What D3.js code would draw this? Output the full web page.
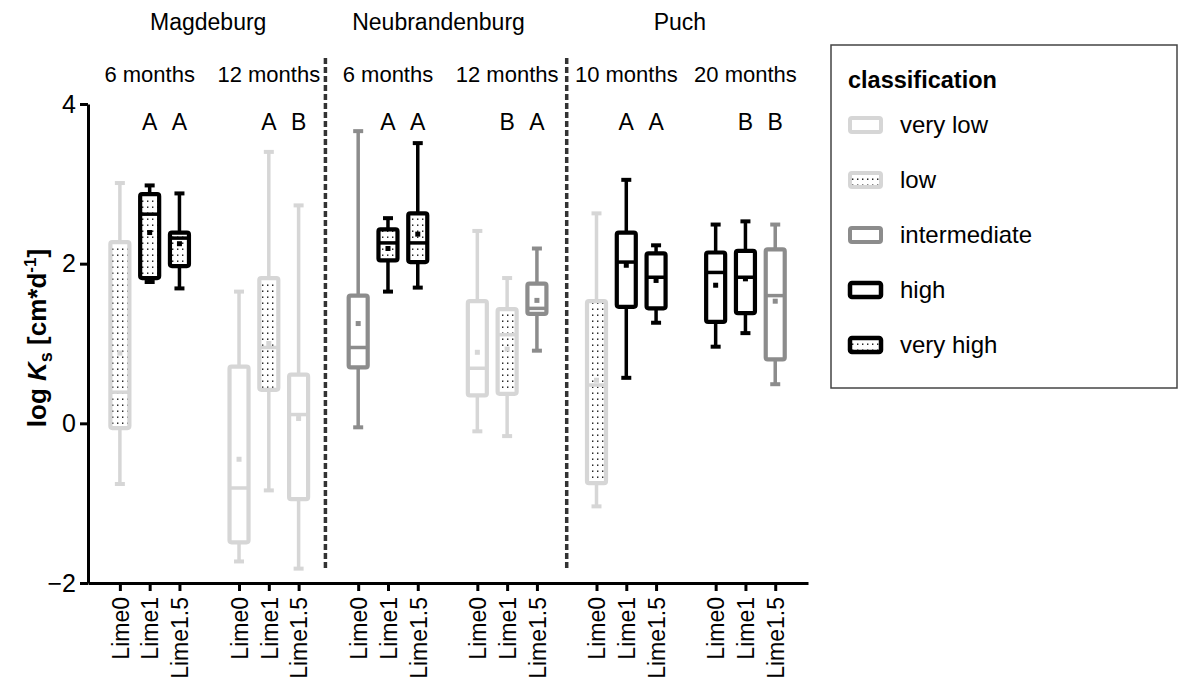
<!DOCTYPE html>
<html>
<head>
<meta charset="utf-8">
<script src="https://cdn.jsdelivr.net/npm/d3@7"></script>
<style>
  html, body { margin: 0; padding: 0; background: #fff; }
  svg { display: block; font-family: "Liberation Sans", Arial, sans-serif; }
</style>
</head>
<body>
<svg id="chart" width="1179" height="682"></svg>
<script>
// ---------- data ----------
const sites = ["Magdeburg", "Neubrandenburg", "Puch"];
const periods = ["6 months", "12 months", "6 months", "12 months", "10 months", "20 months"];
const treatments = ["Lime0", "Lime1", "Lime1.5"];
const classNames = ["very low", "low", "intermediate", "high", "very high"];

// one entry per box, in order: period group (6) x treatment (3)
const boxClass = [
  "low", "very high", "very high",
  "very low", "low", "very low",
  "intermediate", "very high", "very high",
  "very low", "low", "intermediate",
  "low", "high", "high",
  "high", "high", "intermediate"
];
const whiskerHigh = [3.01, 2.98, 2.88, 1.65, 3.40, 2.73, 3.66, 2.57, 3.51, 2.41, 1.82, 2.19, 2.63, 3.05, 2.23, 2.49, 2.53, 2.49];
const q3          = [2.27, 2.87, 2.39, 0.71, 1.82, 0.61, 1.60, 2.43, 2.63, 1.53, 1.43, 1.75, 1.53, 2.39, 2.13, 2.14, 2.16, 2.18];
const medians     = [0.39, 2.62, 2.32, -0.81, 0.95, 0.11, 0.95, 2.26, 2.26, 0.69, 1.11, 1.44, 0.48, 2.02, 1.83, 1.89, 1.83, 1.60];
const q1          = [-0.06, 1.82, 1.97, -1.49, 0.42, -0.95, 0.70, 2.04, 2.02, 0.35, 0.37, 1.37, -0.75, 1.46, 1.44, 1.27, 1.38, 0.80];
const whiskerLow  = [-0.76, 1.77, 1.69, -1.73, -0.84, -1.82, -0.05, 1.65, 1.70, -0.10, -0.16, 0.91, -1.04, 0.57, 1.26, 0.96, 1.13, 0.49];
const means       = [0.88, 2.39, 2.25, -0.45, 1.00, 0.06, 1.25, 2.19, 2.37, 0.89, 0.93, 1.54, 0.54, 1.98, 1.79, 1.73, 1.81, 1.53];
const letters     = ["", "A", "A", "", "A", "B", "", "A", "A", "", "B", "A", "", "A", "A", "", "B", "B"];
const yTicks = [-2, 0, 2, 4];

// ---------- styles per class ----------
const classStroke = { "very low": "#d6d6d6", "low": "#d6d6d6", "intermediate": "#8c8c8c", "high": "#000", "very high": "#000" };
const classDotted = { "very low": false, "low": true, "intermediate": false, "high": false, "very high": true };

// ---------- layout ----------
const svg = d3.select("#chart");
svg.append("rect").attr("width", 1179).attr("height", 682).attr("fill", "#fff");

const defs = svg.append("defs");
const pat = defs.append("pattern").attr("id", "dots")
  .attr("patternUnits", "userSpaceOnUse").attr("width", 5).attr("height", 6);
pat.append("rect").attr("width", 5).attr("height", 6).attr("fill", "#fff");
pat.append("rect").attr("x", 2).attr("y", 2.5).attr("width", 1.4).attr("height", 1.4).attr("fill", "#111");

const x = d3.scaleLinear().domain([-1.07, 23.1]).range([88, 808]);
const y = d3.scaleLinear().domain([-2, 4]).range([583, 104]);

const slotOf = i => Math.floor(i / 3) * 4 + (i % 3);
const boxes = boxClass.map((c, i) => ({
  i, cls: c, slot: slotOf(i),
  lo: whiskerLow[i], q1: q1[i], med: medians[i], q3: q3[i], hi: whiskerHigh[i], mean: means[i], letter: letters[i]
}));

const font = "'Liberation Sans', Arial, sans-serif";

// separators
const sepSlots = [6.9, 15];
svg.append("g").selectAll("line").data(sepSlots).join("line")
  .attr("x1", d => x(d)).attr("x2", d => x(d))
  .attr("y1", 58).attr("y2", 570)
  .attr("stroke", "#333").attr("stroke-width", 3.5).attr("stroke-dasharray", "6,3");

// axes
const yAxis = svg.append("g").attr("transform", `translate(${x.range()[0]},0)`)
  .call(d3.axisLeft(y).tickValues(yTicks).tickSize(8).tickSizeOuter(0).tickPadding(4).tickFormat(d3.format("d")));
yAxis.select(".domain").attr("stroke-width", 3).attr("stroke", "#000");
yAxis.selectAll(".tick line").attr("stroke-width", 3);
yAxis.selectAll(".tick text").attr("font-size", 25).attr("font-family", font).attr("fill", "#000");

const tickSlots = boxes.map(b => b.slot);
const xAxis = svg.append("g").attr("transform", `translate(0,${y.range()[0]})`)
  .call(d3.axisBottom(x).tickValues(tickSlots).tickSize(8).tickSizeOuter(0)
    .tickFormat(s => treatments[s % 4]));
xAxis.select(".domain").attr("stroke-width", 3).attr("stroke", "#000");
xAxis.selectAll(".tick line").attr("stroke-width", 3);
xAxis.selectAll(".tick text")
  .attr("font-size", 23).attr("font-family", font).attr("fill", "#000")
  .attr("text-anchor", "end")
  .attr("transform", "rotate(-90)")
  .attr("x", -14).attr("y", 0).attr("dy", "0.36em");

// y-axis title
const yt = svg.append("text")
  .attr("transform", "translate(46,338) rotate(-90)")
  .attr("text-anchor", "middle")
  .attr("font-size", 26).attr("font-weight", "bold").attr("font-family", font);
yt.append("tspan").text("log ");
yt.append("tspan").attr("font-style", "italic").text("K");
yt.append("tspan").attr("font-size", 18).attr("dy", 6).text("s");
yt.append("tspan").attr("dy", -6).text(" [cm*d");
yt.append("tspan").attr("font-size", 17).attr("dy", -10).text("-1");
yt.append("tspan").attr("dy", 10).text("]");

// headers
const groupCenters = periods.map((p, g) => x(g * 4 + 1));
const siteShift = [-1, -9, -6];
svg.append("g").selectAll("text").data(sites).join("text")
  .attr("x", (d, k) => (groupCenters[2 * k] + groupCenters[2 * k + 1]) / 2 + siteShift[k])
  .attr("y", 30).attr("text-anchor", "middle")
  .attr("font-size", 23).attr("font-family", font).text(d => d);
svg.append("g").selectAll("text").data(periods).join("text")
  .attr("x", (d, g) => groupCenters[g]).attr("y", 82).attr("text-anchor", "middle")
  .attr("font-size", 22).attr("font-family", font).text(d => d);

// letters
svg.append("g").selectAll("text").data(boxes.filter(b => b.letter)).join("text")
  .attr("x", b => x(b.slot)).attr("y", 130).attr("text-anchor", "middle")
  .attr("font-size", 23).attr("font-family", font).text(b => b.letter);

// boxes
const bw = 19, cap = 10;
const bg = svg.append("g").selectAll("g").data(boxes).join("g");
bg.each(function (b) {
  const g = d3.select(this);
  const cx = x(b.slot), col = classStroke[b.cls];
  g.append("line").attr("x1", cx).attr("x2", cx).attr("y1", y(b.hi)).attr("y2", y(b.lo))
    .attr("stroke", col).attr("stroke-width", 3.5);
  [b.hi, b.lo].forEach(v => g.append("line")
    .attr("x1", cx - cap / 2).attr("x2", cx + cap / 2).attr("y1", y(v)).attr("y2", y(v))
    .attr("stroke", col).attr("stroke-width", 4));
  g.append("rect").attr("x", cx - bw / 2).attr("width", bw)
    .attr("y", y(b.q3)).attr("height", y(b.q1) - y(b.q3))
    .attr("rx", 2)
    .attr("fill", classDotted[b.cls] ? "url(#dots)" : "#fff")
    .attr("stroke", col).attr("stroke-width", 4.2);
  g.append("line").attr("x1", cx - bw / 2).attr("x2", cx + bw / 2)
    .attr("y1", y(b.med)).attr("y2", y(b.med))
    .attr("stroke", col).attr("stroke-width", 3.5);
  g.append("rect").attr("x", cx - 2.5).attr("y", y(b.mean) - 2.5).attr("width", 5).attr("height", 5)
    .attr("fill", col);
});

// legend
const lg = svg.append("g");
lg.append("rect").attr("x", 831).attr("y", 45).attr("width", 346).attr("height", 343)
  .attr("fill", "#fff").attr("stroke", "#444").attr("stroke-width", 1.5);
lg.append("text").attr("x", 848).attr("y", 88).attr("font-size", 23.5).attr("font-weight", "bold")
  .attr("font-family", font).text("classification");
const li = lg.selectAll("g.item").data(classNames).join("g").attr("class", "item")
  .attr("transform", (d, k) => `translate(0,${133 + k * 55})`);
li.append("rect").attr("x", 850).attr("y", -15).attr("width", 31).attr("height", 14).attr("rx", 2)
  .attr("fill", d => classDotted[d] ? "url(#dots)" : "#fff")
  .attr("stroke", d => classStroke[d]).attr("stroke-width", d => (d === "high" || d === "very high") ? 4.5 : 4);
li.append("text").attr("x", 900).attr("y", 0).attr("font-size", 24).attr("font-family", font).text(d => d);
</script>
</body>
</html>
